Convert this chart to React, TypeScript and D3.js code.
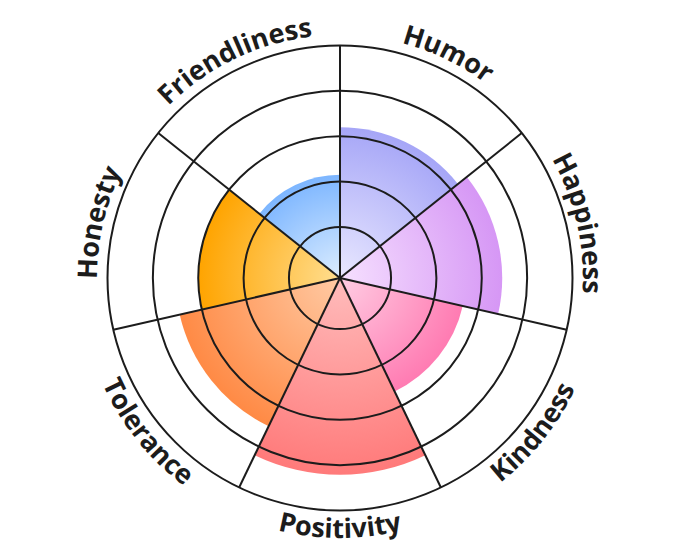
import * as d3 from "d3";

const traits = ["Humor", "Happiness", "Kindness", "Positivity", "Tolerance", "Honesty", "Friendliness"];
const scores = [3.2, 3.45, 2.65, 4.21, 3.5, 3.0, 2.15];
const outerColors = ["#a6a6f7", "#d697f5", "#ff7bb2", "#ff7a7a", "#ff8a45", "#ffa400", "#7db6ff"];
const innerColors = ["#e9e8ff", "#f6e0ff", "#ffcde3", "#ffbcbc", "#ffcaa4", "#ffde90", "#dcedff"];
const ringTicks = [1, 2, 3, 4, 5];

const width = 680;
const height = 557;
const cx = 340;
const cy = 278;
const outerR = 232.5;

const App = () => {
  const r = d3.scaleLinear().domain([-0.125, 5]).range([0, outerR]);
  const angle = d3
    .scaleLinear()
    .domain([0, traits.length])
    .range([0, 2 * Math.PI]);

  const arc = d3.arc<any>()
    .innerRadius(0)
    .outerRadius((d) => r(d.value))
    .startAngle((d) => angle(d.i))
    .endAngle((d) => angle(d.i + 1));

  const sectors = traits.map((name, i) => ({ name, i, value: scores[i] }));

  // labels follow the rim; the lower ones run the other way so they stay upright
  const labelPath = (i: number) => {
    const a0 = angle(i) - Math.PI / 2;
    const a1 = angle(i + 1) - Math.PI / 2;
    const mid = (angle(i) + angle(i + 1)) / 2;
    const bottom = mid > Math.PI / 2 && mid < (3 * Math.PI) / 2;
    const p = d3.path();
    if (bottom) p.arc(0, 0, 260, a1, a0, true);
    else p.arc(0, 0, 243, a0, a1, false);
    return p.toString();
  };

  return (
    <svg width={width} height={height} style={{ display: "block", position: "absolute", left: 0, top: 0 }}>
      <defs>
        {sectors.map((d) => (
          <radialGradient
            key={d.name}
            id={"grad" + d.i}
            gradientUnits="userSpaceOnUse"
            cx={0}
            cy={0}
            r={r(d.value)}
          >
            <stop offset="0%" stopColor={innerColors[d.i]} />
            <stop offset="100%" stopColor={outerColors[d.i]} />
          </radialGradient>
        ))}
        {sectors.map((d) => (
          <path key={d.name} id={"lbl" + d.i} d={labelPath(d.i)} />
        ))}
      </defs>
      <g transform={`translate(${cx},${cy})`}>
        {sectors.map((d) => (
          <path key={d.name} d={arc(d) as string} fill={`url(#grad${d.i})`} />
        ))}
        {ringTicks.map((t) => (
          <circle key={t} r={r(t)} fill="none" stroke="#1c1c1c" strokeWidth={2} />
        ))}
        {sectors.map((d) => {
          const a = angle(d.i) - Math.PI / 2;
          return (
            <line
              key={d.name}
              x1={0}
              y1={0}
              x2={r(5) * Math.cos(a)}
              y2={r(5) * Math.sin(a)}
              stroke="#1c1c1c"
              strokeWidth={2}
            />
          );
        })}
        {sectors.map((d) => (
          <text
            key={d.name}
            fontFamily="'Open Sans', sans-serif"
            fontWeight={700}
            fontSize={27}
            fill="#1c1c1c"
          >
            <textPath href={"#lbl" + d.i} startOffset="50%" textAnchor="middle">
              {d.name}
            </textPath>
          </text>
        ))}
      </g>
    </svg>
  );
};

export default App;
